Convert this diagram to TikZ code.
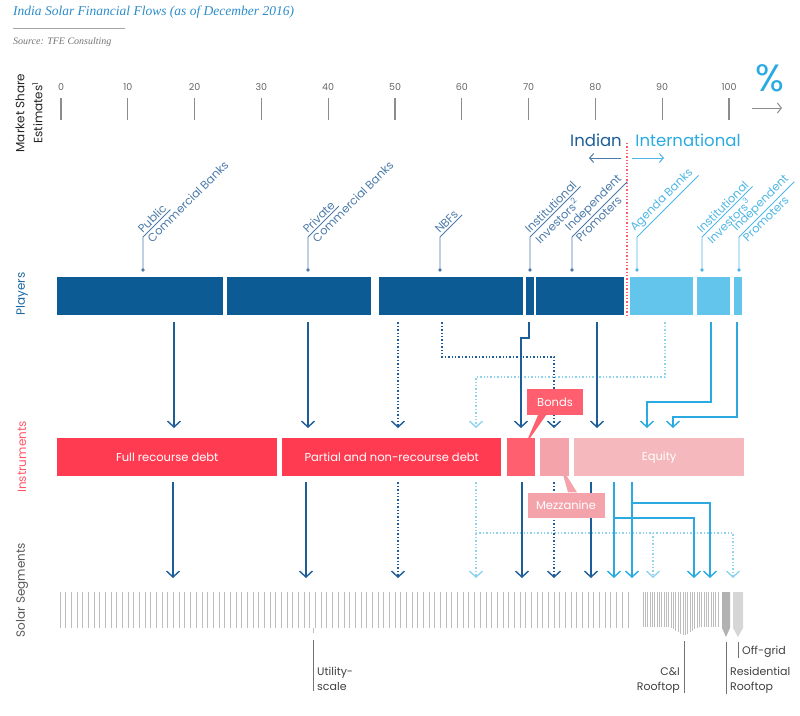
\documentclass[tikz,border=0pt]{standalone}
\usepackage{fontspec}
\setmainfont{Poppins}
\newfontfamily\titlefont{Liberation Serif}
\usetikzlibrary{arrows.meta,calc,positioning}

\definecolor{indbar}{HTML}{0D5B94}
\definecolor{intbar}{HTML}{63C5EB}
\definecolor{indline}{HTML}{1D5E98}
\definecolor{intline}{HTML}{2BAAE2}
\definecolor{intdot}{HTML}{8ED3F0}
\definecolor{indlbl}{HTML}{4C7BA9}
\definecolor{intlbl}{HTML}{4EB6E4}
\definecolor{debtred}{HTML}{FF3B51}
\definecolor{bondred}{HTML}{FF5F6E}
\definecolor{mezzpink}{HTML}{F4A3AB}
\definecolor{eqpink}{HTML}{F5B9BD}
\definecolor{titleblue}{HTML}{2B8CC9}
\definecolor{axisgray}{HTML}{8C8C8C}
\definecolor{stripegray}{HTML}{BDBDBD}
\definecolor{divred}{HTML}{FF5A6A}

\begin{document}
\begin{tikzpicture}[x=1pt, y=-1pt,
        >={Straight Barb[length=6pt,width=13pt]}]
  \tikzset{
    bar/.style      = {anchor=north west, inner sep=0pt, minimum height=38pt, text=white,
                       font=\fontsize{11.5}{13}\selectfont},
    plabel/.style   = {rotate=45, inner sep=2pt, font=\fontsize{11.5}{13}\selectfont},
    flow/.style     = {->, line width=1.4pt, shorten <=7pt},
    dark/.style     = {flow, indline},
    darkdot/.style  = {dark, dotted},
    light/.style    = {flow, intline},
    lightdot/.style = {flow, intdot, dotted},
    side/.style     = {rotate=90, align=center, font=\fontsize{12}{18}\selectfont},
    ticklbl/.style  = {inner sep=0pt, text=black!60, font=\fontsize{9.5}{10}\selectfont},
    tick/.style     = {axisgray, line width=1.1pt},
    stripe/.style   = {stripegray, line width=1pt},
    leader/.style   = {black!55, line width=0.8pt},
    seglbl/.style   = {inner sep=0pt, align=left, text=black!75, font=\fontsize{11}{15}\selectfont},
    callout/.style  = {inner sep=0pt, minimum height=26pt, text=white, font=\fontsize{11.5}{13}\selectfont}
  }
  \useasboundingbox (0,0) rectangle (800,715);

  % title and source
  \node[anchor=west, inner sep=0pt, text=titleblue,
        font=\titlefont\itshape\fontsize{13.5}{16}\selectfont] (title) at (13,12)
        {India Solar Financial Flows (as of December 2016)};
  \draw[black!35, line width=0.6pt] (13,28) -- (125,28);
  \node[anchor=west, inner sep=0pt, text=black!55,
        font=\titlefont\itshape\fontsize{10}{12}\selectfont] (src) at (13,42) {Source: TFE Consulting};

  % market share axis
  \foreach \v in {0,10,...,100} {
    \node[ticklbl] (m\v) at ({61+6.68*\v},87) {\v};
    \draw[tick] (m\v.center) ++(0,11) -- ++(0,22);
  }
  \node[text=intline, inner sep=0pt, font=\fontsize{38}{38}\selectfont] (pct) at (770,78) {\%};
  \coordinate (pa) at (752,108);
  \coordinate (pb) at (782,108);
  \draw[axisgray, line width=1pt, -{Straight Barb[length=4pt,width=10pt]}] (pa) -- (pb);

  % indian / international split
  \node[text=indline, font=\fontsize{16.5}{18}\selectfont] (indian) at (596,140) {Indian};
  \node[text=intline, font=\fontsize{16.5}{18}\selectfont] (intl) at (688,140) {International};
  \coordinate (div) at (627,143);
  \draw[indlbl, line width=1pt, -{Straight Barb[length=4pt,width=9pt]}]
        ($(div)+(-6,15)$) -- ++(-32,0);
  \draw[intlbl, line width=1pt, -{Straight Barb[length=4pt,width=9pt]}]
        ($(div)+(5,15)$) -- ++(32,0);

  % players bar
  \foreach \nm/\xa/\xb/\col in {pub/57/223/indbar, pvt/227/371/indbar, nbf/379/523/indbar,
                                iii/526/534/indbar, ipi/536/624/indbar, agb/630/693/intbar,
                                iix/697/730/intbar, ipx/734/742/intbar}
    \node[bar, fill=\col, minimum width={(\xb-\xa)*1pt}] (\nm) at (\xa,277) {};
  \draw[divred, dotted, line width=1.3pt] (div) -- (627,0 |- ipi.south);

  % player labels
  \foreach \px/\la/\lb/\nm/\col in {143/Public/Commercial Banks/pub/indlbl,
                                    308/Private/Commercial Banks/pvt/indlbl,
                                    440/NBFs//nbf/indlbl,
                                    530/Institutional/Investors\textsuperscript{2}/iii/indlbl,
                                    572/Independent/Promoters/ipi/indlbl,
                                    637/Agenda Banks//agb/intlbl,
                                    702/Institutional/Investors\textsuperscript{3}/iix/intlbl,
                                    739/Independent/Promoters/ipx/intlbl} {
    \fill[\col] (\px,270) circle (1.8pt);
    \coordinate (k\nm) at (\px,237);
    \node[plabel, text=\col, anchor=south west] (l\nm) at (k\nm) {\la};
    \node[plabel, text=\col, anchor=north west] (m\nm) at (k\nm) {\lb};
    \draw[\col, line width=0.9pt] (\px,270) -- (k\nm) -- (l\nm.south east);
  }

  % instruments bar
  \foreach \nm/\xa/\xb/\col/\txt in {full/57/277/debtred/Full recourse debt,
                                     partial/282/501/debtred/Partial and non-recourse debt,
                                     bonds/507/535/bondred/, mezz/540/569/mezzpink/,
                                     equity/574/744/eqpink/Equity}
    \node[bar, fill=\col, minimum width={(\xb-\xa)*1pt}] (\nm) at (\xa,438) {\txt};

  % solar segments
  \node[anchor=north west, inner sep=0pt, minimum width=572pt, minimum height=36pt] (util) at (58,592) {};
  \foreach \i in {0,...,100}
    \draw[stripe] ({60+5.68*\i},592) -- ++(0,36);
  \draw[stripe] (313,628) -- (313,633);
  \foreach \i in {0,...,32} {
    \pgfmathsetmacro\sx{643+2.35*\i}
    \pgfmathsetmacro\sb{627+max(0,9*(1-abs(\sx-684)/14))}
    \draw[stripe, line width=0.9pt] (\sx,592) -- (\sx,\sb);
  }
  \fill[black!30] (722,592) -- (730,592) -- (730,628) -- (726,637) -- (722,628) -- cycle;
  \fill[black!16] (733,592) -- (743,592) -- (743,628) -- (738,637) -- (733,628) -- cycle;

  \node[seglbl, anchor=north west] (lutil) at (317,667) {Utility-\\scale};
  \node[seglbl, anchor=north east, align=right] (lcni) at (680,667) {C\&I\\Rooftop};
  \node[seglbl, anchor=north west] (lres) at (730,667) {Residential\\Rooftop};
  \node[seglbl, anchor=west] (loff) at (742,652) {Off-grid};
  \draw[leader] (313,640) -- (313,0 |- lutil.south);
  \draw[leader] (684,641) -- (684,0 |- lcni.south);
  \draw[leader] (726,642) -- (726,0 |- lres.south);
  \draw[leader] (738,642) -- (738,0 |- loff.south);

  % players to instruments
  \begin{scope}[shorten >=10pt]
    \draw[dark] (174,0 |- pub.south) -- (174,0 |- full.north);
    \draw[dark] (308,0 |- pvt.south) -- (308,0 |- partial.north);
    \draw[darkdot] (398,0 |- nbf.south) -- (398,0 |- partial.north);
    \draw[darkdot] (442,0 |- nbf.south) |- (554,357) -- (554,0 |- mezz.north);
    \draw[lightdot] (665,0 |- agb.south) |- (476,377) -- (476,0 |- partial.north);
    \draw[dark] (529,0 |- iii.south) |- (521,338) -- (521,0 |- bonds.north);
    \draw[dark] (597,0 |- ipi.south) -- (597,0 |- equity.north);
    \draw[light] (711,0 |- iix.south) |- (647,402) -- (647,0 |- equity.north);
    \draw[light] (737,0 |- ipx.south) |- (673,417) -- (673,0 |- equity.north);
  \end{scope}

  % instruments to segments
  \begin{scope}[shorten >=14pt]
    \draw[dark, shorten <=6pt] (173,0 |- full.south) -- (173,0 |- util.north);
    \draw[dark, shorten <=6pt] (306,0 |- partial.south) -- (306,0 |- util.north);
    \draw[darkdot, shorten <=6pt] (398,0 |- partial.south) -- (398,0 |- util.north);
    \draw[lightdot, shorten <=6pt] (476,0 |- partial.south) -- (476,0 |- util.north);
    \draw[lightdot, shorten <=0pt] (476,533) -| (733,0 |- util.north);
    \draw[lightdot, shorten <=0pt] (653,533) -- (653,0 |- util.north);
    \draw[dark, shorten <=6pt] (522,0 |- bonds.south) -- (522,0 |- util.north);
    \draw[darkdot, shorten <=6pt] (554,0 |- mezz.south) -- (554,0 |- util.north);
    \draw[dark, shorten <=6pt] (591,0 |- equity.south) -- (591,0 |- util.north);
    \draw[light, shorten <=6pt] (614,0 |- equity.south) -- (614,0 |- util.north);
    \draw[light, shorten <=0pt] (614,518) -| (694,0 |- util.north);
    \draw[light, shorten <=6pt] (632,0 |- equity.south) -- (632,0 |- util.north);
    \draw[light, shorten <=0pt] (632,503) -| (710,0 |- util.north);
  \end{scope}

  % callouts
  \node[callout, fill=bondred, minimum width=56pt] (bondsbox) at (555,402) {Bonds};
  \fill[bondred] ($(bondsbox.south)+(-17,0)$) -- ($(bondsbox.south)+(-9,0)$)
        -- ($(bonds.north)+(4,7)$) -- cycle;
  \node[callout, fill=mezzpink, minimum width=77pt, minimum height=25pt] (mezzbox) at (566,505) {Mezzanine};
  \fill[mezzpink] ($(mezzbox.north)+(2,0)$) -- ($(mezzbox.north)+(11,0)$)
        -- ($(mezz.south)+(6,-10)$) -- cycle;

  % side labels
  \node[side, text=black!85] (msh) at (29,113) {Market Share\\Estimates\textsuperscript{1}};
  \node[side, text=indline!85!intline] (plr) at (22,294) {Players};
  \node[side, text=debtred!85!white] (ins) at (22,457) {Instruments};
  \node[side, text=black!65] (seg) at (22,590) {Solar Segments};
\end{tikzpicture}
\end{document}
